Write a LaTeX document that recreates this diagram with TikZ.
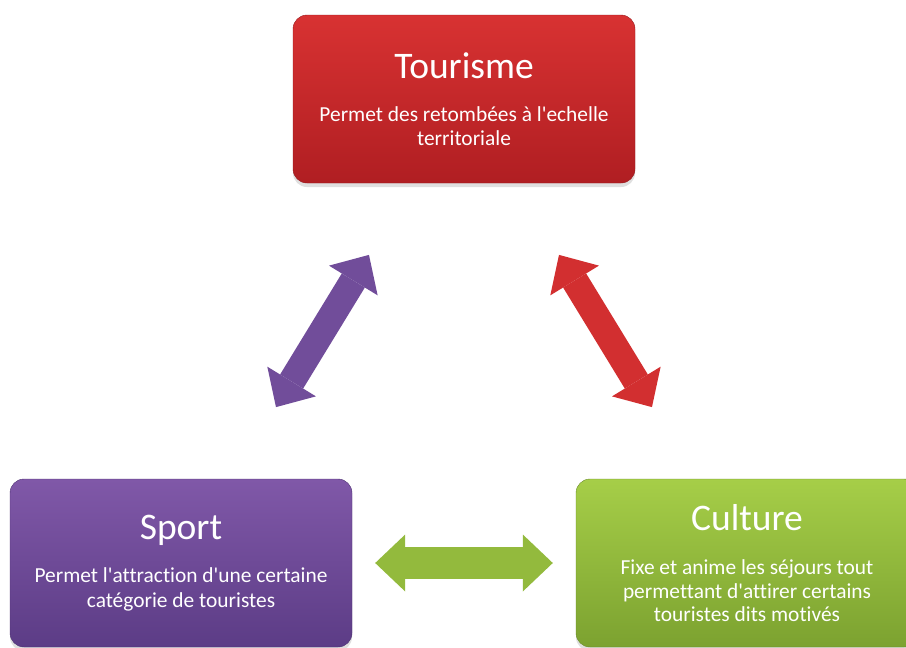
\documentclass[tikz,border=0pt]{standalone}
\usepackage{fontspec}
\setmainfont{Carlito}[Ligatures = NoCommon]
\usetikzlibrary{
    arrows.meta,
    positioning,
    shadows
}
\definecolor{tourtop}{RGB}{216,50,50}
\definecolor{tourbot}{RGB}{176,30,34}
\definecolor{sporttop}{RGB}{128,88,168}
\definecolor{sportbot}{RGB}{92,60,134}
\definecolor{culttop}{RGB}{166,206,72}
\definecolor{cultbot}{RGB}{124,162,48}
\tikzset{
    every picture/.style = {
        x = 1pt,
        y = -1pt
    },
    block/.style 2 args = {
        rectangle,
        rounded corners = 14pt,
        minimum width = 342pt,
        minimum height = 168pt,
        inner sep = 0pt,
        top color = #1,
        bottom color = #2,
        draw = #2!85!black,
        thin,
        text = white,
        align = center,
        font = \fontsize{21.4}{23.5}\selectfont,
        drop shadow = {opacity = 0.25, shadow xshift = 0pt, shadow yshift = -4pt}
    },
    link/.style = {
        line width = 27pt,
        shorten > = 84pt,
        shorten < = 84pt,
        {Triangle[width = 57pt, length = 30pt, line width = 0pt]}-{Triangle[width = 57pt, length = 30pt, line width = 0pt]}
    }
}
\newcommand{\blocktitle}[1]{{\fontsize{37.5}{40}\selectfont #1}}
\newcommand{\q}{\textquotesingle}

\begin{document}
\begin{tikzpicture}
    % \draw[step = 50, lightgray, very thin] (0, 0) grid (906, 648);
    \useasboundingbox (0, 0) rectangle (906, 648);

    \node[block = {tourtop}{tourbot}] (tourisme) at (464, 99)
        {\blocktitle{Tourisme} \\[20pt] Permet des retombées à l\q echelle \\ territoriale};
    \node[block = {sporttop}{sportbot}] (sport) at (181, 563)
        {\blocktitle{Sport} \\[20pt] Permet l\q attraction d\q une certaine \\[1pt] catégorie de touristes};
    \node[block = {culttop}{cultbot}] (culture) at (747, 563)
        {\blocktitle{Culture} \\[21pt] Fixe et anime les séjours tout \\ permettant d\q attirer certains \\ touristes dits motivés};

    \draw[link, sportbot!40!sporttop] (sport) -- (tourisme);
    \draw[link, tourtop!85!tourbot] (tourisme) -- (culture);
    \draw[link, line width = 32pt, shorten > = 23pt, shorten < = 23pt, culttop!55!cultbot] (sport) -- (culture);
\end{tikzpicture}
\end{document}
